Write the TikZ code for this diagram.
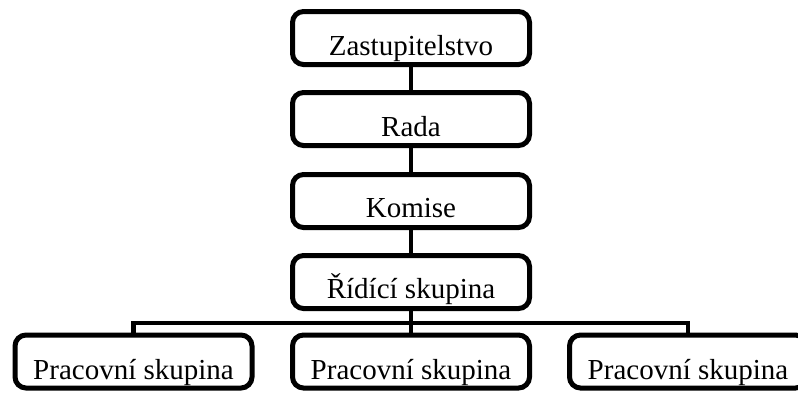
\documentclass[tikz,border=0pt]{standalone}
\usepackage{fontspec}
\setmainfont{Liberation Serif}
\begin{document}
\begin{tikzpicture}[x=1pt,y=-1pt,
  orgbox/.style={draw=black,fill=white,line width=5pt,rounded corners=11pt,
    minimum width=237pt,minimum height=53pt,inner sep=0pt},
  lbl/.style={font=\fontsize{29}{34}\selectfont,anchor=base,inner sep=0pt},
  conn/.style={draw=black,line width=4.5pt}]
\useasboundingbox (0,0) rectangle (798,392);
\clip (0,0) rectangle (798,392);
\node[orgbox] (b1) at (411,38) {};
\node[orgbox] (b2) at (411,119) {};
\node[orgbox] (b3) at (411,201) {};
\node[orgbox] (b4) at (411,282) {};
\node[orgbox] (p1) at (133.5,361.5) {};
\node[orgbox] (p2) at (411,361.5) {};
\node[orgbox] (p3) at (688,361.5) {};
\coordinate (h1) at (133.5,323);
\coordinate (h2) at (411,323);
\coordinate (h3) at (688,323);
\draw[conn] (b1.south) -- (b2.north);
\draw[conn] (b2.south) -- (b3.north);
\draw[conn] (b3.south) -- (b4.north);
\draw[conn] (b4.south) -- (h2);
\draw[conn,line cap=rect] (h1) -- (h3);
\draw[conn] (h1) -- (p1.north);
\draw[conn] (h2) -- (p2.north);
\draw[conn] (h3) -- (p3.north);
\node[lbl] (t1) at (411,55) {Zastupitelstvo};
\node[lbl] (t2) at (411,136) {Rada};
\node[lbl] (t3) at (411,217) {Komise};
\node[lbl] (t4) at (411,298) {Řídící skupina};
\node[lbl] (t5) at (133.5,379) {Pracovní skupina};
\node[lbl] (t6) at (411,379) {Pracovní skupina};
\node[lbl] (t7) at (688,379) {Pracovní skupina};
\end{tikzpicture}
\end{document}
